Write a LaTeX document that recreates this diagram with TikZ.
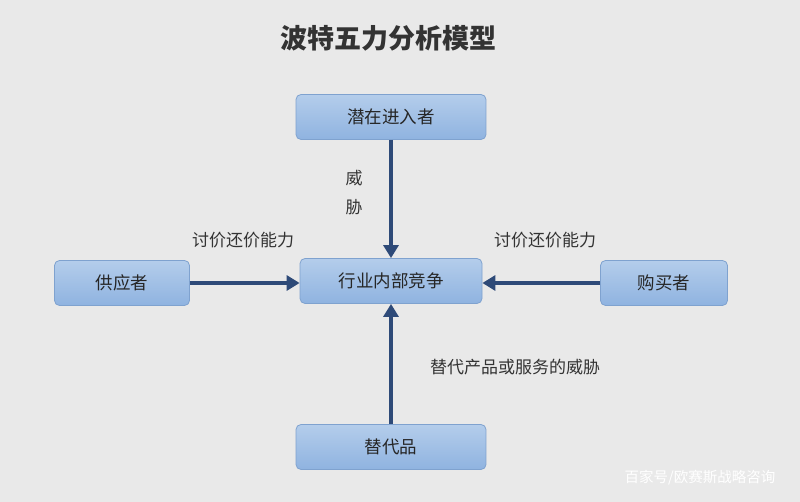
\documentclass[tikz,border=0pt]{standalone}
\usepackage{fontspec}
\newfontfamily\cjk{Noto Sans CJK SC}
\usetikzlibrary{arrows.meta}
\definecolor{bg}{HTML}{E9E9E9}
\definecolor{boxtop}{HTML}{B4CDEB}
\definecolor{boxbot}{HTML}{8FB3E0}
\definecolor{boxline}{HTML}{7FA2CF}
\definecolor{arr}{HTML}{2E4A78}
\tikzset{
  box/.style={draw=boxline, line width=0.8pt, rounded corners=5pt, top color=boxtop, bottom color=boxbot, minimum height=45pt, font=\cjk\fontsize{17.5}{17.5}\selectfont, text=black!85},
  arrow/.style={draw=arr, line width=3.2pt, -{Triangle[length=13pt,width=15pt]}},
  lbl/.style={font=\cjk\fontsize{17}{17}\selectfont, text=black!80}
}
\begin{document}
\begin{tikzpicture}[x=1pt,y=-1pt]
\fill[bg] (0,0) rectangle (800,502);
\useasboundingbox (0,0) rectangle (800,502);
\node[font=\cjk\bfseries\fontsize{27}{27}\selectfont, text=black!80] (title) at (388,38) {波特五力分析模型};
\node[box, minimum width=190pt] (entrant) at (391,117) {潜在进入者};
\node[box, minimum width=182pt] (industry) at (391,281) {行业内部竞争};
\node[box, minimum width=135pt] (supplier) at (122,283) {供应者};
\node[box, minimum width=127pt] (buyer) at (664,283) {购买者};
\node[box, minimum width=190pt] (subst) at (391,447) {替代品};
\draw[arrow] (entrant.south) -- (industry.north);
\draw[arrow] (subst.north) -- (industry.south);
\draw[arrow] (supplier.east) -- (supplier.east -| industry.west);
\draw[arrow] (buyer.west) -- (buyer.west -| industry.east);
\node[lbl] (w1) at (354,178) {威};
\node[lbl] (w2) at (354,207) {胁};
\node[lbl] (l1) at (243,240) {讨价还价能力};
\node[lbl] (l2) at (545,240) {讨价还价能力};
\node[lbl] (l3) at (515,367) {替代产品或服务的威胁};
\node[font=\cjk\fontsize{14.5}{14.5}\selectfont, text=white] (wm) at (700,478) {百家号/欧赛斯战略咨询};
\end{tikzpicture}
\end{document}
